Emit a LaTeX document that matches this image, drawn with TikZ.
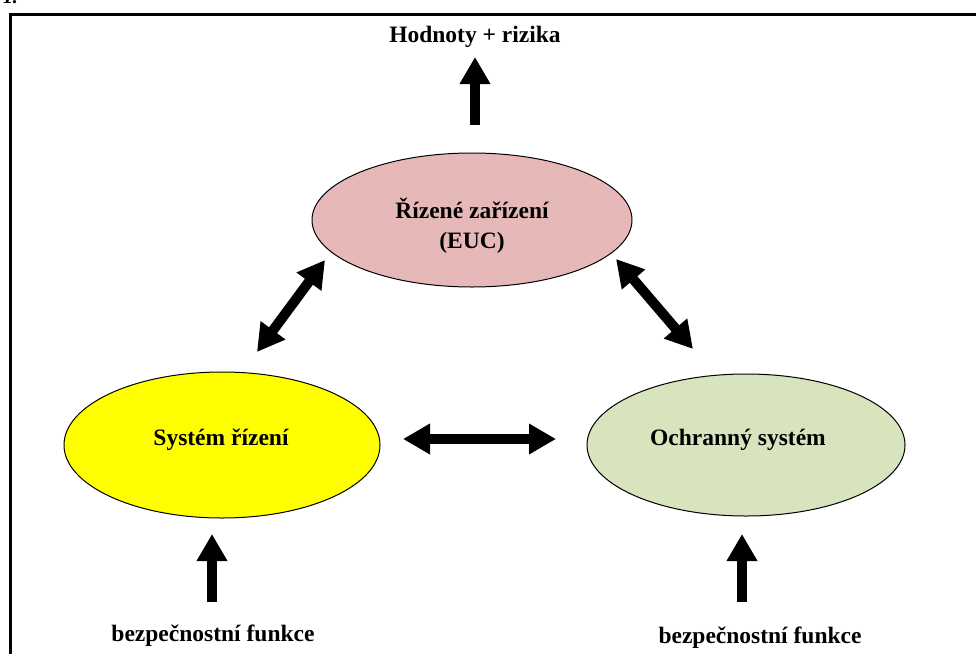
\documentclass[tikz,border=0pt]{standalone}
\usepackage{fontspec}
\setmainfont{Liberation Serif}
\usetikzlibrary{arrows.meta,shapes.geometric}
\definecolor{euc}{HTML}{E6B9B8}
\definecolor{ochr}{HTML}{D7E4BD}
\definecolor{sys}{HTML}{FFFF00}
\tikzset{
  oval/.style={ellipse, draw=black, line width=1pt, inner sep=0pt},
  lbl/.style={font=\fontsize{23.5}{30}\selectfont\bfseries, align=center, inner sep=0pt},
  fat/.style={line width=10pt, -{Triangle[length=27pt,width=29pt]}},
  fatboth/.style={line width=10pt, {Triangle[length=27pt,width=29pt]}-{Triangle[length=27pt,width=29pt]}},
  frame/.style={line width=3pt}
}
\begin{document}
\begin{tikzpicture}[x=1pt,y=-1pt]
\useasboundingbox (0,0) rectangle (976,653);
% page fragment
\node[font=\fontsize{20}{24}\selectfont\bfseries, anchor=base west, inner sep=0pt] (frag) at (2,4) {1.};
% frame
\draw[frame] (10,700) -- (10,14) -- (1000,14);
% ellipses
\node[oval, fill=euc, minimum width=320pt, minimum height=134pt] (euc) at (472,220) {};
\node[oval, fill=sys, minimum width=316pt, minimum height=146pt] (ridi) at (222,445) {};
\node[oval, fill=ochr, minimum width=318pt, minimum height=142pt] (ochr) at (746,445) {};
% labels
\node[lbl] (eucT) at (472,226) {Řízené zařízení\\(EUC)};
\node[lbl] (ridiT) at (221,440) {Systém řízení};
\node[lbl] (ochrT) at (738,440) {Ochranný systém};
\node[lbl] (hod) at (475,37) {Hodnoty + rizika};
\node[lbl] (bf1) at (213,636) {bezpečnostní funkce};
\node[lbl] (bf2) at (760,638) {bezpečnostní funkce};
% arrow end points
\coordinate (topA) at (475,125);
\coordinate (topB) at (475,57);
\coordinate (bl1) at (212,602);
\coordinate (bl2) at (212,534);
\coordinate (br1) at (742,602);
\coordinate (br2) at (742,534);
\coordinate (h1) at (403,439);
\coordinate (h2) at (556,439);
\coordinate (dl1) at (257,352);
\coordinate (dl2) at (325,260);
\coordinate (dr1) at (616,259);
\coordinate (dr2) at (693,349);
% arrows
\draw[fat] (topA) -- (topB);
\draw[fat] (bl1) -- (bl2);
\draw[fat] (br1) -- (br2);
\draw[fatboth] (h1) -- (h2);
\draw[fatboth] (dl1) -- (dl2);
\draw[fatboth] (dr1) -- (dr2);
\end{tikzpicture}
\end{document}
